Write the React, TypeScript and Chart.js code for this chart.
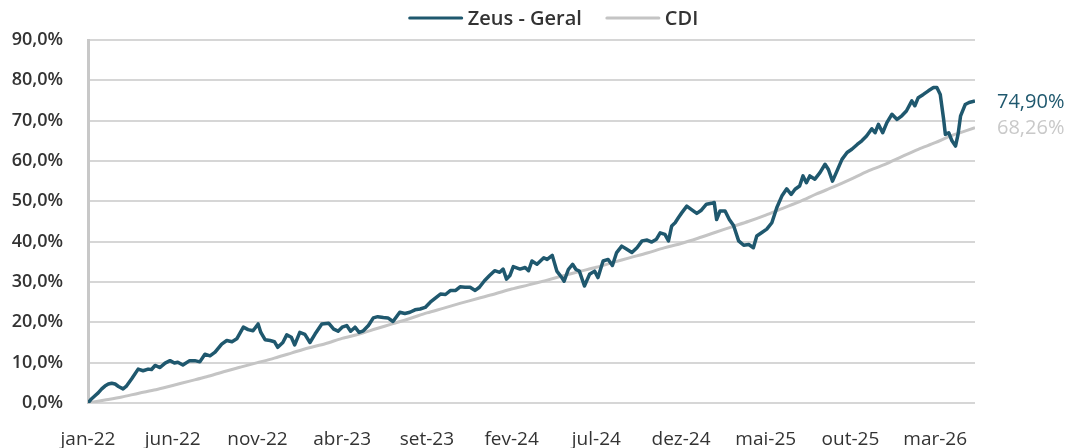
import React, { useEffect, useRef } from 'react';
import { Chart, registerables } from 'chart.js';

Chart.register(...registerables);

// Month index 0 = jan-22; one tick label every 5 months
const xTickLabels = ['jan-22', 'jun-22', 'nov-22', 'abr-23', 'set-23', 'fev-24', 'jul-24', 'dez-24', 'mai-25', 'out-25', 'mar-26'];
const monthsPerTick = 5;
const xMaxMonth = 52.35;
const yMin = 0;
const yMax = 90;
const yStep = 10;

const seriesNames = ['Zeus - Geral', 'CDI'];

// [months since jan-22, cumulative return %]
const zeusPoints: [number, number][] = [
  [0, 0], [0.2, 1.0], [0.41, 1.8], [0.6, 2.5], [0.81, 3.5], [1.0, 4.2], [1.2, 4.7], [1.4, 4.9], [1.6, 4.7], [1.8, 4.1],
  [2.07, 3.5], [2.25, 4.1], [2.58, 6.0], [2.96, 8.4], [3.25, 8.0], [3.55, 8.4], [3.75, 8.3], [3.96, 9.3], [4.25, 8.8], [4.55, 9.9],
  [4.84, 10.5], [5.1, 9.9], [5.3, 10.1], [5.6, 9.4], [6.0, 10.5], [6.3, 10.5], [6.6, 10.2], [6.9, 12.1], [7.2, 11.7], [7.5, 12.6],
  [7.89, 14.6], [8.19, 15.5], [8.5, 15.2], [8.78, 15.9], [9.17, 18.8], [9.45, 18.2], [9.74, 17.9], [10.04, 19.6], [10.2, 17.5], [10.45, 15.7],
  [10.75, 15.5], [11.0, 15.2], [11.2, 13.8], [11.5, 15.0], [11.73, 16.9], [12.0, 16.3], [12.2, 14.4], [12.5, 17.5], [12.8, 17.0], [13.1, 15.0],
  [13.4, 17.1], [13.8, 19.6], [14.2, 19.8], [14.5, 18.3], [14.76, 17.8], [15.0, 18.8], [15.27, 19.2], [15.5, 17.8], [15.76, 18.8], [16.0, 17.5],
  [16.25, 17.9], [16.55, 19.2], [16.84, 21.1], [17.1, 21.4], [17.43, 21.2], [17.7, 21.1], [18.0, 20.2], [18.4, 22.5], [18.7, 22.2], [19.0, 22.5],
  [19.3, 23.1], [19.6, 23.3], [19.9, 23.7], [20.2, 25.0], [20.5, 26.0], [20.8, 27.0], [21.1, 26.9], [21.4, 27.9], [21.7, 27.9], [21.96, 28.8],
  [22.25, 28.7], [22.55, 28.7], [22.85, 27.9], [23.1, 28.7], [23.4, 30.3], [23.7, 31.6], [24.0, 32.8], [24.3, 32.4], [24.5, 33.2], [24.7, 30.7],
  [24.9, 31.6], [25.1, 33.8], [25.5, 33.2], [25.8, 33.6], [26.0, 32.8], [26.2, 35.2], [26.5, 34.4], [26.9, 36.0], [27.1, 35.6], [27.4, 36.6],
  [27.67, 32.7], [27.96, 31.1], [28.1, 30.2], [28.35, 33.1], [28.6, 34.4], [28.8, 33.1], [29.0, 32.7], [29.3, 29.0], [29.6, 31.9], [29.9, 32.7],
  [30.1, 31.1], [30.4, 35.2], [30.7, 35.6], [30.95, 34.1], [31.2, 37.3], [31.5, 38.9], [31.8, 38.1], [32.1, 37.3], [32.4, 38.5], [32.7, 40.2],
  [33.0, 40.4], [33.27, 39.9], [33.55, 40.6], [33.77, 42.2], [34.05, 41.8], [34.26, 40.2], [34.45, 43.9], [34.65, 44.7], [34.85, 46.0], [35.05, 47.2],
  [35.34, 48.8], [35.6, 48.0], [35.93, 47.0], [36.2, 47.8], [36.5, 49.3], [36.8, 49.5], [36.96, 49.7], [37.1, 45.5], [37.3, 47.6], [37.6, 47.6],
  [37.85, 45.5], [38.1, 44.0], [38.4, 40.2], [38.7, 39.1], [39.0, 39.3], [39.27, 38.5], [39.47, 41.4], [39.75, 42.2], [40.06, 43.1], [40.36, 44.7],
  [40.65, 48.4], [40.95, 51.3], [41.24, 53.1], [41.5, 51.7], [41.73, 53.0], [42.0, 53.8], [42.2, 56.3], [42.4, 54.6], [42.6, 56.3], [42.9, 55.5],
  [43.2, 57.1], [43.5, 59.2], [43.7, 57.9], [43.94, 55.0], [44.2, 57.5], [44.5, 60.4], [44.8, 62.1], [45.08, 62.9], [45.4, 64.1], [45.67, 65.0],
  [45.95, 66.2], [46.26, 68.0], [46.45, 67.0], [46.65, 69.1], [46.9, 67.0], [47.15, 69.5], [47.45, 71.6], [47.75, 70.3], [48.03, 71.2], [48.3, 72.4],
  [48.62, 74.9], [48.8, 73.7], [49.0, 75.7], [49.3, 76.5], [49.6, 77.4], [49.9, 78.2], [50.1, 78.2], [50.3, 76.5], [50.5, 70.3], [50.6, 66.6],
  [50.8, 67.0], [50.99, 65.0], [51.2, 63.7], [51.35, 66.6], [51.5, 71.2], [51.77, 74.0], [52.0, 74.5], [52.35, 74.9],
];

const cdiPoints: [number, number][] = [
  [0, 0], [1, 0.73], [2, 1.5], [3, 2.44], [4, 3.29], [5, 4.35], [6, 5.42], [7, 6.5], [8, 7.75], [9, 8.9],
  [10, 10.01], [11, 11.14], [12, 12.38], [13, 13.64], [14, 14.69], [15, 16.03], [16, 17.09], [17, 18.41], [18, 19.67], [19, 20.95],
  [20, 22.33], [21, 23.52], [22, 24.75], [23, 25.9], [24, 27.02], [25, 28.25], [26, 29.28], [27, 30.35], [28, 31.51], [29, 32.6],
  [30, 33.65], [31, 34.87], [32, 36.04], [33, 37.18], [34, 38.46], [35, 39.55], [36, 40.85], [37, 42.27], [38, 43.68], [39, 45.06],
  [40, 46.6], [41, 48.27], [42, 49.9], [43, 51.82], [44, 53.58], [45, 55.46], [46, 57.45], [47, 59.1], [48, 61.04], [49, 62.91],
  [50, 64.54], [51, 66.35], [52.35, 68.26],
];

const zeusColor = '#1f586e';
const cdiColor = '#c4c4c4';
const cdiLabelColor = '#c9c9c9';
const textColor = '#333333';
const gridColor = '#d6d6d6';
const FONT = "'Open Sans', 'Noto Sans', sans-serif";

const fmtPct = (v: number, d: number) => v.toFixed(d).replace('.', ',') + '%';

const legendPlugin = {
  id: 'customLegend',
  afterDraw(chart: any) {
    const ctx = chart.ctx;
    const cx = 554;
    const cy = 18;
    const lineLen = 52;
    const gapText = 6;
    const gapItems = 25;
    ctx.save();
    ctx.font = `600 20px ${FONT}`;
    const items = chart.data.datasets.map((ds: any) => ({ text: ds.label, color: ds.borderColor, w: ctx.measureText(ds.label).width }));
    const total = items.reduce((s: number, it: any) => s + lineLen + gapText + it.w, 0) + gapItems * (items.length - 1);
    let x = cx - total / 2;
    for (const it of items) {
      ctx.strokeStyle = it.color;
      ctx.lineWidth = 3;
      ctx.lineCap = 'round';
      ctx.beginPath();
      ctx.moveTo(x, cy);
      ctx.lineTo(x + lineLen, cy);
      ctx.stroke();
      x += lineLen + gapText;
      ctx.fillStyle = textColor;
      ctx.textBaseline = 'middle';
      ctx.textAlign = 'left';
      ctx.fillText(it.text, x, cy + 1);
      x += it.w + gapItems;
    }
    ctx.restore();
  },
};

const endLabelPlugin = {
  id: 'endLabels',
  afterDatasetsDraw(chart: any) {
    const ctx = chart.ctx;
    const colors = [zeusColor, cdiLabelColor];
    ctx.save();
    ctx.font = `400 20px ${FONT}`;
    ctx.textAlign = 'left';
    ctx.textBaseline = 'middle';
    chart.data.datasets.forEach((ds: any, i: number) => {
      const meta = chart.getDatasetMeta(i);
      const el = meta.data[meta.data.length - 1];
      const last = ds.data[ds.data.length - 1];
      ctx.fillStyle = colors[i];
      ctx.fillText(fmtPct(last.y, 2), el.x + 22, el.y + 1);
    });
    ctx.restore();
  },
};

export default function App() {
  const canvasRef = useRef<HTMLCanvasElement | null>(null);

  useEffect(() => {
    document.body.style.margin = '0';
    const canvas = canvasRef.current;
    if (!canvas) return;
    const chart = new Chart(canvas, {
      type: 'line',
      data: {
        datasets: [
          {
            label: seriesNames[0],
            data: zeusPoints.map(([x, y]) => ({ x, y })),
            borderColor: zeusColor,
            backgroundColor: zeusColor,
            borderWidth: 3.5,
            borderJoinStyle: 'round',
            pointRadius: 0,
            tension: 0,
            order: 1,
          },
          {
            label: seriesNames[1],
            data: cdiPoints.map(([x, y]) => ({ x, y })),
            borderColor: cdiColor,
            backgroundColor: cdiColor,
            borderWidth: 3,
            pointRadius: 0,
            tension: 0.3,
            order: 2,
          },
        ],
      },
      options: {
        animation: false,
        responsive: false,
        maintainAspectRatio: false,
        layout: { padding: { left: 0, right: 95, top: 40, bottom: 0 } },
        plugins: {
          legend: { display: false },
          tooltip: { enabled: false },
        },
        scales: {
          x: {
            type: 'linear',
            min: 0,
            max: xMaxMonth,
            afterBuildTicks: (scale: any) => {
              scale.ticks = xTickLabels.map((_, i) => ({ value: i * monthsPerTick }));
            },
            afterFit: (scale: any) => {
              scale.height = 45;
            },
            grid: { display: false, drawTicks: false },
            border: { display: false },
            ticks: {
              autoSkip: false,
              maxRotation: 0,
              padding: 25,
              color: textColor,
              font: { family: FONT, size: 19, weight: '400' },
              callback: (v: any) => xTickLabels[Math.round(Number(v) / monthsPerTick)] ?? '',
            },
          },
          y: {
            min: yMin,
            max: yMax,
            afterFit: (scale: any) => {
              scale.width = 88;
            },
            grid: { color: gridColor, lineWidth: 2, drawTicks: false },
            border: { display: true, color: '#c8c8c8', width: 3 },
            ticks: {
              stepSize: yStep,
              padding: 25,
              color: textColor,
              font: { family: FONT, size: 18, weight: '600' },
              callback: (v: any) => fmtPct(Number(v), 1),
            },
          },
        },
      },
      plugins: [legendPlugin, endLabelPlugin],
    });
    return () => chart.destroy();
  }, []);

  return (
    <div style={{ position: 'fixed', left: 0, top: 0, width: 1070, height: 448, background: '#ffffff' }}>
      <canvas ref={canvasRef} width={1070} height={448} style={{ width: 1070, height: 448 }} />
    </div>
  );
}
